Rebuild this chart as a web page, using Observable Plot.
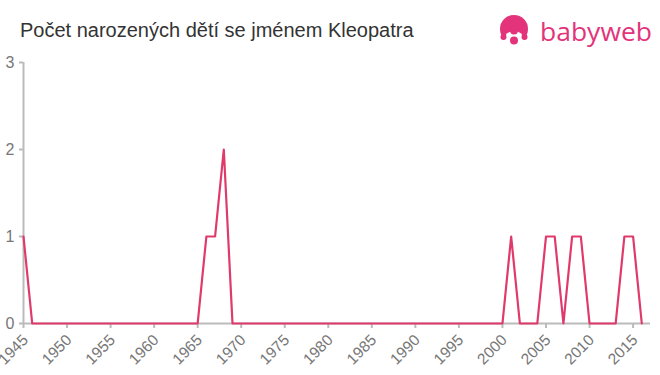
<!DOCTYPE html>
<html>
<head>
<meta charset="utf-8">
<script src="https://cdn.jsdelivr.net/npm/d3@7"></script>
<script src="https://cdn.jsdelivr.net/npm/@observablehq/plot@0.6"></script>
<style>
  body { margin: 0; background: #fff; font-family: "Liberation Sans", Arial, sans-serif; }
  #wrap { position: relative; width: 660px; height: 375px; overflow: hidden; }
  #title { position: absolute; left: 20px; top: 19px; font-size: 20px; color: #333; white-space: nowrap; font-family: "Liberation Sans", Arial, sans-serif; }
  #logo { position: absolute; left: 500px; top: 14px; }
  #chart { position: absolute; left: 0; top: 0; }
</style>
</head>
<body>
<div id="wrap">
  <div id="chart"></div>
  <div id="title">Počet narozených dětí se jménem Kleopatra</div>
  <svg id="logo" width="160" height="40" viewBox="0 0 160 40">
    <circle cx="14" cy="15" r="14" fill="#e3337b"/>
    <ellipse cx="14" cy="25" rx="9.5" ry="8" fill="#fff"/>
    <circle cx="14" cy="16.5" r="4" fill="#e3337b"/>
    <circle cx="3.5" cy="23" r="3" fill="#e3337b"/>
    <circle cx="24.5" cy="23" r="3" fill="#e3337b"/>
    <circle cx="14" cy="26.5" r="4" fill="#e3337b"/>
    <text x="40" y="27" font-family="'Open Sans', 'Liberation Sans', sans-serif" font-size="26" font-weight="500" textLength="112" lengthAdjust="spacingAndGlyphs" fill="#e3337b">babyweb</text>
  </svg>
</div>
<script>
const years = d3.range(1945, 2017);
const nonzero = {1945: 1, 1966: 1, 1967: 1, 1968: 2, 2001: 1, 2005: 1, 2006: 1, 2008: 1, 2009: 1, 2014: 1, 2015: 1};
const counts = years.map(y => nonzero[y] ?? 0);
const xTicks = d3.range(1945, 2016, 5);
const yTicks = [0, 1, 2, 3];

const data = years.map((y, i) => ({year: y, count: counts[i]}));

const chart = Plot.plot({
  width: 660,
  height: 375,
  marginTop: 62,
  marginBottom: 52,
  marginLeft: 23,
  marginRight: 10,
  style: {fontFamily: "'Liberation Sans', Arial, sans-serif", fontSize: "16px", background: "transparent"},
  x: {domain: [1945, 2017], ticks: xTicks, tickFormat: d => String(d)},
  y: {domain: [0, 3], ticks: yTicks, tickFormat: d => String(d)},
  marks: [
    Plot.ruleY([0], {stroke: "#bbb", strokeWidth: 2}),
    Plot.ruleX([1945], {stroke: "#bbb", strokeWidth: 2}),
    Plot.axisX({ticks: xTicks, tickSize: 5, stroke: "#bbb", strokeWidth: 2, label: null, tickFormat: () => ""}),
    Plot.text(xTicks, {x: d => d, frameAnchor: "bottom", text: d => String(d), rotate: -45, textAnchor: "end", lineAnchor: "middle", dx: 2, dy: 14, fontSize: 15.5, fill: "#777"}),
    Plot.axisY({ticks: yTicks, tickSize: 4, tickPadding: 5, color: "#777", stroke: "#bbb", strokeWidth: 2, label: null, tickFormat: d => String(d)}),
    Plot.line(data, {x: "year", y: "count", stroke: "#e03a6c", strokeWidth: 2.2})
  ]
});
document.getElementById("chart").appendChild(chart);
</script>
</body>
</html>
